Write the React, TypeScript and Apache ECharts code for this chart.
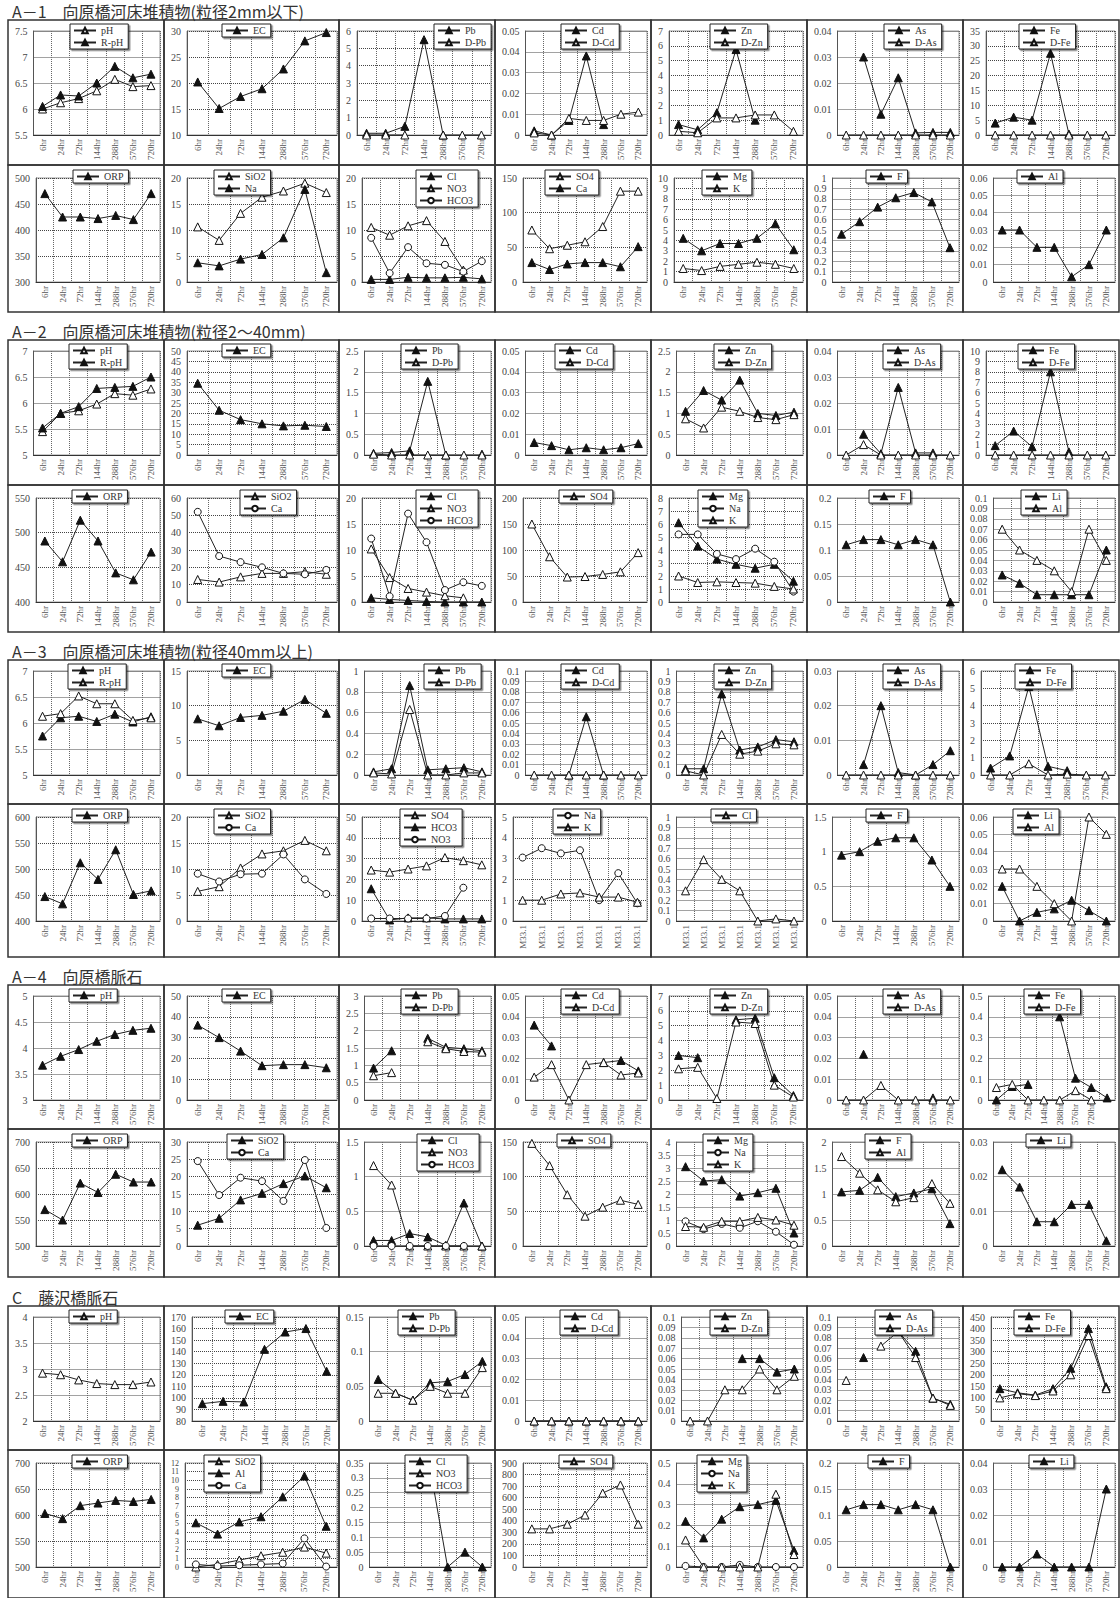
import { useEffect, useRef } from 'react';
import * as echarts from 'echarts';

// ---------- categories ----------
const HOURS = ['6hr', '24hr', '72hr', '144hr', '288hr', '576hr', '720hr'];
const HOURS8 = ['6hr', '24hr', '72hr', '144hr', '288hr', '576hr', '720hr', ''];
const M33 = ['M33.1', 'M33.1', 'M33.1', 'M33.1', 'M33.1', 'M33.1', 'M33.1'];

const TITLES = [
  'A－1　向原橋河床堆積物(粒径2mm以下)',
  'A－2　向原橋河床堆積物(粒径2～40mm)',
  'A－3　向原橋河床堆積物(粒径40mm以上)',
  'A－4　向原橋脈石',
  'C　藤沢橋脈石',
];

const Z7 = [0, 0, 0, 0, 0, 0, 0];
const N7 = [null, null, null, null, null, null, null];

// ---------- A-1 ----------
const a1_pH = [6.0, 6.12, 6.2, 6.35, 6.57, 6.43, 6.45];
const a1_RpH = [6.05, 6.27, 6.25, 6.5, 6.82, 6.6, 6.67];
const a1_EC = [20.2, 15.1, 17.4, 18.9, 22.7, 28.1, 29.7];
const a1_Pb = [0.1, 0.1, 0.5, 5.5, 0, null, null];
const a1_DPb = [0, 0, 0, null, 0, 0, 0];
const a1_Cd = [0.002, 0, 0.007, 0.038, 0.005, null, null];
const a1_DCd = [0.001, 0, 0.008, 0.007, 0.007, 0.01, 0.011];
const a1_Zn = [0.7, 0.35, 1.5, 5.75, 1.0, null, null];
const a1_DZn = [0.25, 0.15, 1.15, 1.15, 1.35, 1.35, 0.25];
const a1_As = [null, 0.03, 0.008, 0.022, 0.0008, 0.001, 0.001];
const a1_DAs = Z7;
const a1_Fe = [4, 6, 5, 27.5, 0.3, null, null];
const a1_DFe = Z7;
const a1_ORP = [470, 425, 425, 422, 428, 420, 470];
const a1_SiO2 = [10.6, 8.0, 13.2, 16.3, 17.5, 19.0, 17.2];
const a1_Na = [3.7, 3.1, 4.4, 5.3, 8.5, 17.8, 1.8];
const a1_Cl = [0.5, 0.5, 0.9, 0.8, 0.8, 0.9, 0.6];
const a1_NO3 = [10.5, 9.0, 10.8, 11.8, 7.8, 2.3, null];
const a1_HCO3 = [8.5, 1.7, 6.7, 3.6, 3.3, 2.0, 4.0];
const a1_SO4 = [75, 48, 53, 58, 80, 131, 131];
const a1_Ca = [28, 18, 26, 28, 28, 22, 51];
const a1_Mg = [4.2, 3.0, 3.7, 3.7, 4.2, 5.6, 3.1];
const a1_K = [1.3, 1.1, 1.5, 1.7, 1.9, 1.7, 1.3];
const a1_F = [0.46, 0.58, 0.72, 0.81, 0.86, 0.77, 0.33];
const a1_Al = [0.03, 0.03, 0.02, 0.02, 0.003, 0.01, 0.03];

// ---------- A-2 ----------
const a2_pH = [5.45, 5.8, 5.85, 5.98, 6.18, 6.15, 6.27];
const a2_RpH = [5.52, 5.8, 5.93, 6.28, 6.3, 6.32, 6.5];
const a2_EC = [34.5, 21.5, 17, 15, 14, 14.3, 13.7];
const a2_Pb = [0.04, 0.06, 0.1, 1.77, 0, null, 0.02];
const a2_DPb = [0.02, 0, 0, 0, 0, 0, 0];
const a2_Cd = [0.006, 0.0045, 0.0025, 0.0035, 0.0025, 0.0035, 0.0055];
const a2_DCd = N7;
const a2_Zn = [1.05, 1.55, 1.32, 1.8, 1.0, 0.95, 1.03];
const a2_DZn = [0.87, 0.65, 1.15, 1.05, 0.9, 0.85, 0.97];
const a2_As = [null, 0.008, 0.0005, 0.026, 0.0008, 0.0008, null];
const a2_DAs = [0, 0.004, 0, 0, 0, 0, 0];
const a2_Fe = [0.9, 2.3, 0.8, 8.0, 0.3, null, null];
const a2_DFe = Z7;
const a2_ORP = [488, 458, 518, 488, 442, 432, 472];
const a2_SiO2 = [13, 11.5, 14.5, 16.5, 16.5, 17.5, 16];
const a2_Ca = [52, 26.5, 23, 20, 16.5, 16, 18.5];
const a2_Cl = [0.8, 0.5, 0.3, 0.1, 0, 0, 0];
const a2_NO3 = [10.2, 4.7, 2.6, 1.9, 1.2, 0.8, null];
const a2_HCO3 = [12.2, 1.1, 17, 11.5, 2.3, 3.8, 3.1];
const a2_SO4 = [150, 87, 48, 49, 53, 58, 95];
const a2_Mg = [6.1, 4.3, 3.3, 2.9, 2.6, 2.9, 1.6];
const a2_Na = [5.2, 5.2, 3.7, 3.3, 4.1, 3.1, 0.8];
const a2_K = [2.0, 1.5, 1.55, 1.5, 1.45, 1.2, 1.0];
const a2_F = [0.11, 0.12, 0.12, 0.11, 0.12, 0.11, 0];
const a2_Li = [0.026, 0.018, 0.007, 0.007, 0.007, 0.007, 0.05];
const a2_Al = [0.07, 0.05, 0.04, 0.03, 0.01, 0.07, 0.04];

// ---------- A-3 ----------
const a3_pH = [5.75, 6.1, 6.13, 6.03, 6.17, 6.02, 6.12];
const a3_RpH = [6.13, 6.18, 6.52, 6.37, 6.37, 6.05, 6.1];
const a3_EC = [8.1, 7.1, 8.3, 8.6, 9.2, 10.9, 8.9];
const a3_Pb = [0.03, 0.06, 0.86, 0.05, 0.06, 0.07, 0.03];
const a3_DPb = [0.02, 0.01, 0.63, 0, 0, 0.02, 0.02];
const a3_Cd = [null, null, 0, 0.056, 0, null, null];
const a3_DCd = Z7;
const a3_Zn = [0.06, 0.06, 0.78, 0.24, 0.27, 0.34, 0.32];
const a3_DZn = [0.04, 0, 0.39, 0.2, 0.23, 0.3, 0.29];
const a3_As = [null, 0.003, 0.02, 0.0007, 0, 0.003, 0.007];
const a3_DAs = Z7;
const a3_Fe = [0.4, 1.1, 5.1, 0.5, 0.25, null, null];
const a3_DFe = [0, 0, 0.65, 0, 0.05, 0, 0];
const a3_ORP = [447, 433, 512, 480, 537, 451, 458];
const a3_SiO2 = [5.7, 6.6, 10.2, 12.9, 13.5, 15.5, 13.5];
const a3_Ca = [9.1, 7.6, 9.0, 9.1, 12.8, 8.0, 5.2];
const a3_SO4 = [24.5, 23.5, 25, 26.5, 30.5, 29, 27];
const a3_HCO3 = [15.5, 0.5, 1.5, 1.5, 1, 1, 1];
const a3_NO3 = [1.2, 1.2, 1.2, 1.2, 2.4, 16, null];
const a3_Na = [3.05, 3.5, 3.25, 3.4, 1.0, 2.3, 0.85];
const a3_K = [1.0, 1.0, 1.3, 1.35, 1.15, 1.15, 0.9];
const a3_Cl = [0.29, 0.59, 0.4, 0.29, 0, 0.02, 0];
const a3_F = [0.95, 1.0, 1.15, 1.2, 1.2, 0.88, 0.5];
const a3_Li = [0.02, 0, 0.005, 0.007, 0.012, 0.006, 0];
const a3_Al = [0.03, 0.03, 0.02, 0.01, 0, 0.06, 0.05];

// ---------- A-4 ----------
const a4_pH = [3.67, 3.84, 3.97, 4.13, 4.26, 4.34, 4.38];
const a4_EC = [36, 30, 23.5, 16.5, 17, 17, 15.5];
const a4_Pb = [0.92, 1.42, null, 1.78, 1.52, 1.48, 1.42];
const a4_DPb = [0.7, 0.79, null, 1.68, 1.48, 1.4, 1.38];
const a4_Cd = [0.036, 0.026, null, null, 0.018, 0.019, 0.014];
const a4_DCd = [0.011, 0.017, 0, 0.017, 0.018, 0.012, 0.013];
const a4_Zn = [3.0, 2.85, null, 5.4, 5.5, 1.5, 0.3];
const a4_DZn = [2.1, 2.2, 0.1, 5.25, 5.15, 1.0, 0.2];
const a4_As = [null, 0.022, null, null, null, 0.001, null];
const a4_DAs = [0, 0, 0.007, 0, 0, 0, 0];
const a4_Fe = [0, 0.065, 0.075, null, 0.4, 0.105, 0.06, 0.01];
const a4_DFe = [0.06, 0.075, 0, 0, 0, 0.045, 0, null];
const a4_ORP = [570, 550, 621, 603, 638, 623, 623];
const a4_SiO2 = [6, 8, 13.3, 15.2, 18, 20.2, 16.8];
const a4_Ca = [24.5, 14.7, 19.7, 18.7, 13.0, 24.8, 5.2];
const a4_Cl = [0.08, 0.08, 0.18, 0.13, 0.01, 0.62, 0];
const a4_NO3 = [1.16, 0.88, 0, 0, 0, 0, 0];
const a4_HCO3 = [0, 0, 0, 0, 0, 0, null];
const a4_SO4 = [148, 116, 74, 43, 56, 66, 60];
const a4_Mg = [3.05, 2.5, 2.55, 1.92, 2.05, 2.22, 0.5];
const a4_Na = [0.95, 0.65, 0.85, 0.7, 0.95, 0.55, 0.05];
const a4_K = [0.75, 0.72, 0.95, 0.95, 1.1, 1.0, 0.8];
const a4_F = [1.04, 1.07, 1.32, 0.95, 1.02, 1.1, 0.43];
const a4_Al = [1.72, 1.4, 1.08, 0.85, 0.93, 1.2, 0.82];
const a4_Li = [0.022, 0.017, 0.007, 0.007, 0.012, 0.012, 0.0015];

// ---------- C ----------
const c_pH = [2.92, 2.89, 2.79, 2.72, 2.7, 2.7, 2.75];
const c_EC = [95, 97, 96.5, 142, 157, 160, 123];
const c_Pb = [0.06, 0.04, 0.03, 0.055, 0.057, 0.067, 0.086];
const c_DPb = [0.04, 0.04, 0.03, 0.05, 0.04, 0.04, 0.077];
const c_Cd = Z7;
const c_DCd = Z7;
const c_Zn = [null, null, null, 0.06, 0.06, 0.047, 0.05];
const c_DZn = [0, 0, 0.03, 0.03, 0.05, 0.03, 0.043];
const c_As = [null, 0.061, null, 0.086, 0.067, 0.022, 0.016];
const c_DAs = [0.039, null, 0.072, 0.086, 0.061, 0.022, 0.015];
const c_Fe = [140, 122, 112, 140, 228, 400, 148];
const c_DFe = [100, 118, 110, 130, 200, 370, 140];
const c_ORP = [603, 593, 618, 623, 628, 626, 630];
const c_SiO2 = [0, 0.3, 0.8, 1.3, 1.7, 2.3, 1.6];
const c_Al = [5.1, 3.8, 5.2, 5.8, 8.1, 10.5, 4.7];
const c_Ca = [0.3, 0.1, 0.2, 0.3, 0.4, 3.3, 0.05];
const c_Cl = [null, null, null, 0.33, 0, 0.05, 0];
const c_NO3 = N7;
const c_HCO3 = N7;
const c_SO4 = [330, 330, 370, 450, 640, 710, 370];
const c_Mg = [0.22, 0.14, 0.23, 0.29, 0.3, 0.32, 0.08];
const c_Na = [0.005, 0, 0, 0.01, 0, 0, 0];
const c_K = [0.13, 0, 0, 0, 0, 0.35, 0.06];
const c_F = [0.11, 0.12, 0.12, 0.11, 0.12, 0.11, 0];
const c_Li = [0, 0, 0.005, 0, 0, 0, 0.03];

// ---------- panel definitions ----------
type Mk = 'f' | 'o' | 'c';
type Panel = { y: [number, number, number]; s: [string, (number | null)[], Mk][]; cats?: string[] };

const SEC_A1: Panel[] = [
  { y: [5.5, 7.5, 0.5], s: [['pH', a1_pH, 'o'], ['R-pH', a1_RpH, 'f']] },
  { y: [10, 30, 5], s: [['EC', a1_EC, 'f']] },
  { y: [0, 6, 1], s: [['Pb', a1_Pb, 'f'], ['D-Pb', a1_DPb, 'o']] },
  { y: [0, 0.05, 0.01], s: [['Cd', a1_Cd, 'f'], ['D-Cd', a1_DCd, 'o']] },
  { y: [0, 7, 1], s: [['Zn', a1_Zn, 'f'], ['D-Zn', a1_DZn, 'o']] },
  { y: [0, 0.04, 0.01], s: [['As', a1_As, 'f'], ['D-As', a1_DAs, 'o']] },
  { y: [0, 35, 5], s: [['Fe', a1_Fe, 'f'], ['D-Fe', a1_DFe, 'o']] },
  { y: [300, 500, 50], s: [['ORP', a1_ORP, 'f']] },
  { y: [0, 20, 5], s: [['SiO2', a1_SiO2, 'o'], ['Na', a1_Na, 'f']] },
  { y: [0, 20, 5], s: [['Cl', a1_Cl, 'f'], ['NO3', a1_NO3, 'o'], ['HCO3', a1_HCO3, 'c']] },
  { y: [0, 150, 50], s: [['SO4', a1_SO4, 'o'], ['Ca', a1_Ca, 'f']] },
  { y: [0, 10, 1], s: [['Mg', a1_Mg, 'f'], ['K', a1_K, 'o']] },
  { y: [0, 1, 0.1], s: [['F', a1_F, 'f']] },
  { y: [0, 0.06, 0.01], s: [['Al', a1_Al, 'f']] },
];
const SEC_A2: Panel[] = [
  { y: [5, 7, 0.5], s: [['pH', a2_pH, 'o'], ['R-pH', a2_RpH, 'f']] },
  { y: [0, 50, 5], s: [['EC', a2_EC, 'f']] },
  { y: [0, 2.5, 0.5], s: [['Pb', a2_Pb, 'f'], ['D-Pb', a2_DPb, 'o']] },
  { y: [0, 0.05, 0.01], s: [['Cd', a2_Cd, 'f'], ['D-Cd', a2_DCd, 'o']] },
  { y: [0, 2.5, 0.5], s: [['Zn', a2_Zn, 'f'], ['D-Zn', a2_DZn, 'o']] },
  { y: [0, 0.04, 0.01], s: [['As', a2_As, 'f'], ['D-As', a2_DAs, 'o']] },
  { y: [0, 10, 1], s: [['Fe', a2_Fe, 'f'], ['D-Fe', a2_DFe, 'o']] },
  { y: [400, 550, 50], s: [['ORP', a2_ORP, 'f']] },
  { y: [0, 60, 10], s: [['SiO2', a2_SiO2, 'o'], ['Ca', a2_Ca, 'c']] },
  { y: [0, 20, 5], s: [['Cl', a2_Cl, 'f'], ['NO3', a2_NO3, 'o'], ['HCO3', a2_HCO3, 'c']] },
  { y: [0, 200, 50], s: [['SO4', a2_SO4, 'o']] },
  { y: [0, 8, 1], s: [['Mg', a2_Mg, 'f'], ['Na', a2_Na, 'c'], ['K', a2_K, 'o']] },
  { y: [0, 0.2, 0.05], s: [['F', a2_F, 'f']] },
  { y: [0, 0.1, 0.01], s: [['Li', a2_Li, 'f'], ['Al', a2_Al, 'o']] },
];
const SEC_A3: Panel[] = [
  { y: [5, 7, 0.5], s: [['pH', a3_pH, 'f'], ['R-pH', a3_RpH, 'o']] },
  { y: [0, 15, 5], s: [['EC', a3_EC, 'f']] },
  { y: [0, 1, 0.2], s: [['Pb', a3_Pb, 'f'], ['D-Pb', a3_DPb, 'o']] },
  { y: [0, 0.1, 0.01], s: [['Cd', a3_Cd, 'f'], ['D-Cd', a3_DCd, 'o']] },
  { y: [0, 1, 0.1], s: [['Zn', a3_Zn, 'f'], ['D-Zn', a3_DZn, 'o']] },
  { y: [0, 0.03, 0.01], s: [['As', a3_As, 'f'], ['D-As', a3_DAs, 'o']] },
  { y: [0, 6, 1], s: [['Fe', a3_Fe, 'f'], ['D-Fe', a3_DFe, 'o']] },
  { y: [400, 600, 50], s: [['ORP', a3_ORP, 'f']] },
  { y: [0, 20, 5], s: [['SiO2', a3_SiO2, 'o'], ['Ca', a3_Ca, 'c']] },
  { y: [0, 50, 10], s: [['SO4', a3_SO4, 'o'], ['HCO3', a3_HCO3, 'f'], ['NO3', a3_NO3, 'c']] },
  { y: [0, 5, 1], s: [['Na', a3_Na, 'c'], ['K', a3_K, 'o']], cats: M33 },
  { y: [0, 1, 0.1], s: [['Cl', a3_Cl, 'o']], cats: M33 },
  { y: [0, 1.5, 0.5], s: [['F', a3_F, 'f']] },
  { y: [0, 0.06, 0.01], s: [['Li', a3_Li, 'f'], ['Al', a3_Al, 'o']] },
];
const SEC_A4: Panel[] = [
  { y: [3, 5, 0.5], s: [['pH', a4_pH, 'f']] },
  { y: [0, 50, 10], s: [['EC', a4_EC, 'f']] },
  { y: [0, 3, 0.5], s: [['Pb', a4_Pb, 'f'], ['D-Pb', a4_DPb, 'o']] },
  { y: [0, 0.05, 0.01], s: [['Cd', a4_Cd, 'f'], ['D-Cd', a4_DCd, 'o']] },
  { y: [0, 7, 1], s: [['Zn', a4_Zn, 'f'], ['D-Zn', a4_DZn, 'o']] },
  { y: [0, 0.05, 0.01], s: [['As', a4_As, 'f'], ['D-As', a4_DAs, 'o']] },
  { y: [0, 0.5, 0.1], s: [['Fe', a4_Fe, 'f'], ['D-Fe', a4_DFe, 'o']], cats: HOURS8 },
  { y: [500, 700, 50], s: [['ORP', a4_ORP, 'f']] },
  { y: [0, 30, 5], s: [['SiO2', a4_SiO2, 'f'], ['Ca', a4_Ca, 'c']] },
  { y: [0, 1.5, 0.5], s: [['Cl', a4_Cl, 'f'], ['NO3', a4_NO3, 'o'], ['HCO3', a4_HCO3, 'c']] },
  { y: [0, 150, 50], s: [['SO4', a4_SO4, 'o']] },
  { y: [0, 4, 0.5], s: [['Mg', a4_Mg, 'f'], ['Na', a4_Na, 'c'], ['K', a4_K, 'o']] },
  { y: [0, 2, 0.5], s: [['F', a4_F, 'f'], ['Al', a4_Al, 'o']] },
  { y: [0, 0.03, 0.01], s: [['Li', a4_Li, 'f']] },
];
const SEC_C: Panel[] = [
  { y: [2, 4, 0.5], s: [['pH', c_pH, 'o']] },
  { y: [80, 170, 10], s: [['EC', c_EC, 'f']] },
  { y: [0, 0.15, 0.05], s: [['Pb', c_Pb, 'f'], ['D-Pb', c_DPb, 'o']] },
  { y: [0, 0.05, 0.01], s: [['Cd', c_Cd, 'f'], ['D-Cd', c_DCd, 'o']] },
  { y: [0, 0.1, 0.01], s: [['Zn', c_Zn, 'f'], ['D-Zn', c_DZn, 'o']] },
  { y: [0, 0.1, 0.01], s: [['As', c_As, 'f'], ['D-As', c_DAs, 'o']] },
  { y: [0, 450, 50], s: [['Fe', c_Fe, 'f'], ['D-Fe', c_DFe, 'o']] },
  { y: [500, 700, 50], s: [['ORP', c_ORP, 'f']] },
  { y: [0, 12, 1], s: [['SiO2', c_SiO2, 'o'], ['Al', c_Al, 'f'], ['Ca', c_Ca, 'c']] },
  { y: [0, 0.35, 0.05], s: [['Cl', c_Cl, 'f'], ['NO3', c_NO3, 'o'], ['HCO3', c_HCO3, 'c']] },
  { y: [0, 900, 100], s: [['SO4', c_SO4, 'o']] },
  { y: [0, 0.5, 0.1], s: [['Mg', c_Mg, 'f'], ['Na', c_Na, 'c'], ['K', c_K, 'o']] },
  { y: [0, 0.2, 0.05], s: [['F', c_F, 'f']] },
  { y: [0, 0.04, 0.01], s: [['Li', c_Li, 'f']] },
];
const SECTIONS = [SEC_A1, SEC_A2, SEC_A3, SEC_A4, SEC_C];

// ---------- layout ----------
const COL_X = [8, 164, 339, 495, 651, 807, 963];
const COL_W = [156, 175, 156, 156, 156, 156, 156];
const ROW_TOPS = [
  [20, 165, 312],
  [340, 485, 632],
  [660, 804, 957],
  [985, 1129, 1277],
  [1306, 1450, 1598],
];
const LEG_X = [
  [62, 58, 95, 66, 59, 77, 56, 65, 50, 77, 50, 51, 59, 54],
  [61, 58, 62, 60, 63, 76, 55, 64, 76, 77, 64, 47, 62, 58],
  [60, 58, 85, 66, 63, 76, 52, 64, 50, 61, 58, 60, 59, 50],
  [61, 58, 62, 66, 59, 76, 61, 64, 63, 78, 62, 52, 58, 63],
  [61, 61, 59, 65, 59, 68, 51, 64, 40, 66, 64, 46, 61, 66],
];

const SERIF = '"Liberation Serif", "Times New Roman", serif';

function fmt(v: number) {
  return String(Number(v.toFixed(6)));
}
function textW(s: string, fs: number) {
  let w = 0;
  for (const ch of s) w += ch === '.' ? fs * 0.25 : fs * 0.5;
  return w;
}

function buildOption() {
  const grid: any[] = [];
  const xAxis: any[] = [];
  const yAxis: any[] = [];
  const series: any[] = [];
  const legend: any[] = [];
  const elements: any[] = [];

  SECTIONS.forEach((panels, si) => {
    const tops = ROW_TOPS[si];
    elements.push({
      type: 'text',
      x: 12,
      y: tops[0] - 9,
      style: {
        text: TITLES[si],
        fontSize: 16,
        fontFamily: '"Noto Sans CJK JP", sans-serif',
        fill: '#333',
        verticalAlign: 'middle',
        align: 'left',
      },
    });
    panels.forEach((p, pi) => {
      const r = pi < 7 ? 0 : 1;
      const c = pi % 7;
      const px = COL_X[c];
      const pw = COL_W[c];
      const py = tops[r];
      const ph = tops[r + 1] - tops[r];
      elements.push({
        type: 'rect',
        z: 100,
        shape: { x: px, y: py, width: pw, height: ph },
        style: { fill: 'none', stroke: '#333', lineWidth: 1.5 },
        silent: true,
      });
      const [mn, mx, iv] = p.y;
      const labels: string[] = [];
      const n = Math.round((mx - mn) / iv);
      for (let k = 0; k <= n; k++) labels.push(fmt(mn + k * iv));
      const fs = n > 10 ? 8 : 10;
      const lw = Math.max(...labels.map((s) => textW(s, fs)));
      const left = px + lw + 13;
      const right = px + pw - (c === 1 ? 2 : 4);
      const top = py + (r === 0 ? 11 : 13);
      const idx = grid.length;
      grid.push({
        left,
        top,
        width: right - left,
        height: 104,
        show: true,
        borderColor: '#999',
        borderWidth: 1,
        backgroundColor: '#fff',
      });
      const cats = p.cats ?? HOURS;
      xAxis.push({
        type: 'category',
        gridIndex: idx,
        data: cats.map((_, i) => String(i)),
        boundaryGap: true,
        axisTick: { show: false },
        axisLine: { show: true, lineStyle: { color: '#333', width: 1 } },
        axisLabel: {
          interval: 0,
          rotate: 90,
          fontSize: 9,
          fontFamily: SERIF,
          color: '#555',
          margin: 4,
          formatter: (_v: string, i: number) => cats[i],
        },
        splitLine: { show: true, interval: 0, lineStyle: { type: 'dotted', color: '#666', width: 1 } },
      });
      yAxis.push({
        type: 'value',
        gridIndex: idx,
        min: mn,
        max: mx,
        interval: iv,
        axisTick: { show: false },
        axisLine: { show: true, lineStyle: { color: '#555', width: 1 } },
        axisLabel: {
          fontSize: fs,
          lineHeight: fs,
          fontFamily: SERIF,
          color: '#444',
          margin: 6,
          showMinLabel: true,
          showMaxLabel: true,
          hideOverlap: false,
        },
        splitLine: { show: true, lineStyle: { type: 'dotted', color: '#444', width: 1 } },
      });
      const names: string[] = [];
      p.s.forEach(([nm, data, mk]) => {
        const id = `${si}_${pi}|${nm}`;
        names.push(id);
        series.push({
          type: 'line',
          name: id,
          xAxisIndex: idx,
          yAxisIndex: idx,
          data,
          symbol: mk === 'c' ? 'circle' : 'triangle',
          symbolSize: mk === 'c' ? 7 : 8,
          showAllSymbol: true,
          connectNulls: false,
          lineStyle: { color: '#222', width: 1 },
          itemStyle: {
            color: mk === 'f' ? '#111' : '#fff',
            borderColor: '#111',
            borderWidth: 1,
          },
          emphasis: { disabled: true },
        });
      });
      legend.push({
        data: names,
        left: px + LEG_X[si][pi],
        top: py + (r === 0 ? 4 : 5),
        orient: 'vertical',
        formatter: (nm: string) => nm.split('|')[1],
        itemWidth: 22,
        itemHeight: 7,
        itemGap: 1,
        padding: [1, 5, 1, 3],
        borderColor: '#222',
        borderWidth: 1,
        backgroundColor: '#fff',
        shadowColor: 'rgba(0,0,0,0.5)',
        shadowOffsetX: 1.5,
        shadowOffsetY: 1.5,
        shadowBlur: 0,
        selectedMode: false,
        textStyle: { fontSize: 10, fontFamily: SERIF, color: '#333', lineHeight: 11 },
        z: 10,
      });
    });
  });

  return {
    animation: false,
    backgroundColor: '#fff',
    grid,
    xAxis,
    yAxis,
    series,
    legend,
    graphic: { elements },
  };
}

export default function App() {
  const ref = useRef<HTMLDivElement>(null);
  useEffect(() => {
    if (!ref.current) return;
    const chart = echarts.init(ref.current, undefined, { renderer: 'svg' });
    chart.setOption(buildOption() as any);
    return () => chart.dispose();
  }, []);
  return (
    <div
      ref={ref}
      style={{ position: 'absolute', left: 0, top: 0, width: 1120, height: 1598, background: '#fff' }}
    />
  );
}
